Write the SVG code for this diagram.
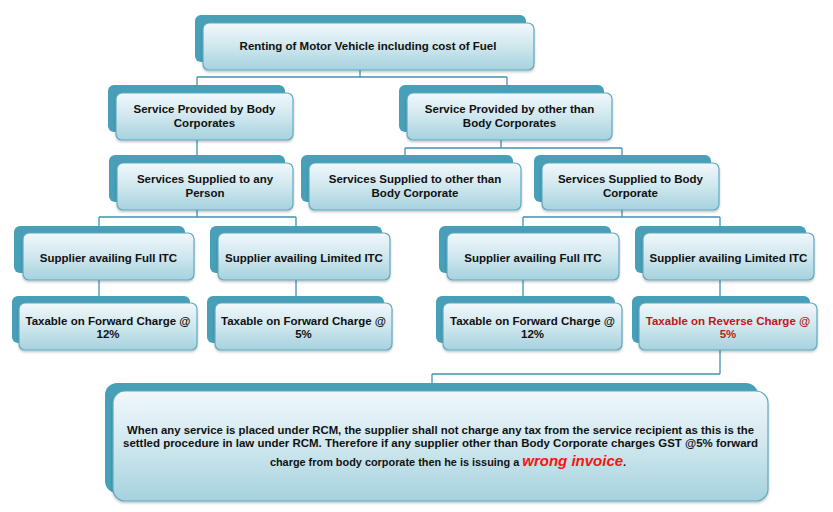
<svg xmlns="http://www.w3.org/2000/svg" width="833" height="512" viewBox="0 0 833 512">
<defs>
<linearGradient id="g" x1="0" y1="0" x2="0" y2="1">
<stop offset="0" stop-color="#f1f8fb"/>
<stop offset="0.5" stop-color="#cfe7ee"/>
<stop offset="1" stop-color="#a5d2de"/>
</linearGradient>
<filter id="ds" x="-5%" y="-5%" width="110%" height="120%">
<feDropShadow dx="0" dy="1.5" stdDeviation="1" flood-color="#000" flood-opacity="0.25"/>
</filter>
</defs>
<style>
.sh{fill:#47a0b8;}
.fr{fill:url(#g);stroke:#5fa9c0;stroke-width:1.2;filter:url(#ds);}
.t{font-family:"Liberation Sans",Arial,sans-serif;font-weight:bold;font-size:11.5px;fill:#111;text-anchor:middle;}
.red{fill:#c0161b;}
.c{fill:none;stroke:#3f94ae;stroke-width:1.3;}
.w{font-family:"Liberation Sans",Arial,sans-serif;font-weight:bold;font-style:italic;font-size:15px;fill:#ff1010;}
</style>
<rect width="833" height="512" fill="#fff"/>
<g id="connectors">
<path class="c" d="M360,70 V77 M197,77 H507 M197,77 V85 M507,77 V85"/>
<path class="c" d="M197,140 V155"/>
<path class="c" d="M501,140 V148 M405,148 H622 M405,148 V155 M622,148 V155"/>
<path class="c" d="M197,210 V217 M99,217 H296 M99,217 V226 M296,217 V226"/>
<path class="c" d="M622,210 V217 M523,217 H720 M523,217 V226 M720,217 V226"/>
<path class="c" d="M99,280 V296 M296,280 V296 M523,280 V296 M720,280 V296"/>
<path class="c" d="M720,350 V374 M432,374 H720 M432,374 V383"/>
</g>
<g id="n1">
<rect class="sh" x="195" y="15" width="331" height="47" rx="6"/>
<rect class="fr" x="203" y="23" width="331" height="47" rx="6"/>
<text class="t" x="368" y="50">Renting of Motor Vehicle including cost of Fuel</text>
</g>
<g id="n2">
<rect class="sh" x="108" y="85" width="177" height="47" rx="6"/>
<rect class="fr" x="116" y="93" width="177" height="47" rx="6"/>
<text class="t" x="204.5" y="113">Service Provided by Body</text>
<text class="t" x="204.5" y="127">Corporates</text>
</g>
<g id="n3">
<rect class="sh" x="399" y="85" width="205" height="47" rx="6"/>
<rect class="fr" x="407" y="93" width="205" height="47" rx="6"/>
<text class="t" x="509.5" y="113">Service Provided by other than</text>
<text class="t" x="509.5" y="127">Body Corporates</text>
</g>
<g id="n4">
<rect class="sh" x="109" y="155" width="176" height="47" rx="6"/>
<rect class="fr" x="117" y="163" width="176" height="47" rx="6"/>
<text class="t" x="205" y="183">Services Supplied to any</text>
<text class="t" x="205" y="197">Person</text>
</g>
<g id="n5">
<rect class="sh" x="301" y="155" width="212" height="47" rx="6"/>
<rect class="fr" x="309" y="163" width="212" height="47" rx="6"/>
<text class="t" x="415" y="183">Services Supplied to other than</text>
<text class="t" x="415" y="197">Body Corporate</text>
</g>
<g id="n6">
<rect class="sh" x="534" y="155" width="177" height="47" rx="6"/>
<rect class="fr" x="542" y="163" width="177" height="47" rx="6"/>
<text class="t" x="630.5" y="183">Services Supplied to Body</text>
<text class="t" x="630.5" y="197">Corporate</text>
</g>
<g id="n7">
<rect class="sh" x="14" y="226" width="171" height="47" rx="6"/>
<rect class="fr" x="23" y="233" width="171" height="47" rx="6"/>
<text class="t" x="108.5" y="262">Supplier availing Full ITC</text>
</g>
<g id="n8">
<rect class="sh" x="210" y="226" width="172" height="47" rx="6"/>
<rect class="fr" x="218" y="233" width="172" height="47" rx="6"/>
<text class="t" x="304" y="262">Supplier availing Limited ITC</text>
</g>
<g id="n9">
<rect class="sh" x="439" y="226" width="172" height="47" rx="6"/>
<rect class="fr" x="447" y="233" width="172" height="47" rx="6"/>
<text class="t" x="533" y="262">Supplier availing Full ITC</text>
</g>
<g id="n10">
<rect class="sh" x="635" y="226" width="171" height="47" rx="6"/>
<rect class="fr" x="643" y="233" width="171" height="47" rx="6"/>
<text class="t" x="728.5" y="262">Supplier availing Limited ITC</text>
</g>
<g id="n11">
<rect class="sh" x="12" y="296" width="178" height="47" rx="6"/>
<rect class="fr" x="19" y="303" width="178" height="47" rx="6"/>
<text class="t" x="108" y="325">Taxable on Forward Charge @</text>
<text class="t" x="108" y="338">12%</text>
</g>
<g id="n12">
<rect class="sh" x="207" y="296" width="177" height="47" rx="6"/>
<rect class="fr" x="215" y="303" width="177" height="47" rx="6"/>
<text class="t" x="303.5" y="325">Taxable on Forward Charge @</text>
<text class="t" x="303.5" y="338">5%</text>
</g>
<g id="n13">
<rect class="sh" x="436" y="296" width="179" height="47" rx="6"/>
<rect class="fr" x="443" y="303" width="179" height="47" rx="6"/>
<text class="t" x="532.5" y="325">Taxable on Forward Charge @</text>
<text class="t" x="532.5" y="338">12%</text>
</g>
<g id="n14">
<rect class="sh" x="632" y="296" width="178" height="47" rx="6"/>
<rect class="fr" x="639" y="303" width="178" height="47" rx="6"/>
<text class="t red" x="728" y="325">Taxable on Reverse Charge @</text>
<text class="t red" x="728" y="338">5%</text>
</g>
<g id="n15">
<rect class="sh" x="105" y="383" width="653" height="110" rx="12"/>
<rect class="fr" x="113" y="391" width="655" height="110" rx="12"/>
<text class="t" x="440.5" y="434" textLength="627" lengthAdjust="spacingAndGlyphs">When any service is placed under RCM, the supplier shall not charge any tax from the service recipient as this is the</text>
<text class="t" x="440.5" y="447" textLength="635" lengthAdjust="spacingAndGlyphs">settled procedure in law under RCM. Therefore if any supplier other than Body Corporate charges GST @5% forward</text>
<text class="t" x="448" y="466" style="font-size:10.9px">charge from body corporate then he is issuing a <tspan class="w">wrong invoice</tspan>.</text>
</g>
</svg>
